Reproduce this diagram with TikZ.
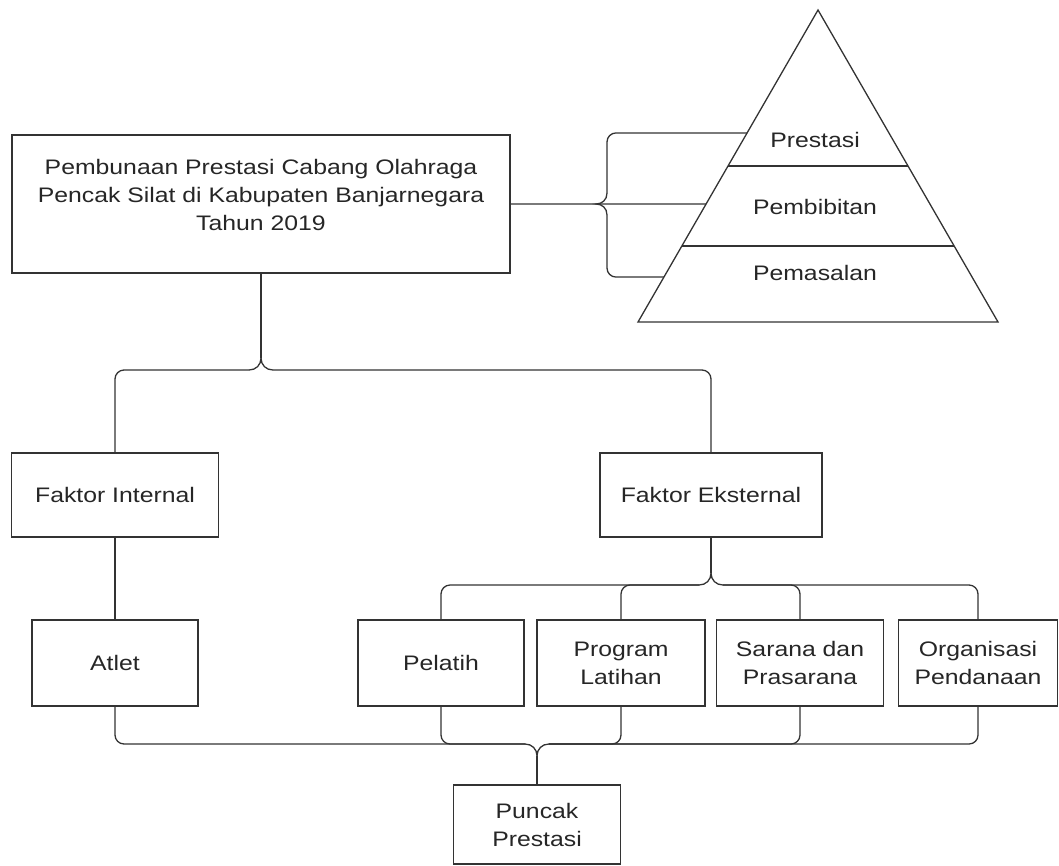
\documentclass[tikz,border=0pt]{standalone}
\usepackage{fontspec}
\setmainfont[FakeStretch=1.18]{Liberation Sans}
\usetikzlibrary{positioning, calc}

\begin{document}
\begin{tikzpicture}[x=1pt, y=-1pt, line width=1.3pt,
    blok/.style={draw=black!80, align=center, inner sep=0pt, text=black!85,
                 font=\fontsize{21}{28}\selectfont},
    lvl/.style={text=black!85, inner sep=0pt, font=\fontsize{21}{27}\selectfont},
    link/.style={draw=black!80},
    bracepath/.style={link, rounded corners=9pt}]
    \useasboundingbox (0,0) rectangle (1059,865);

    % main box and factors
    \node[blok, minimum width=498pt, minimum height=138pt] (main) at (261,204)
        {Pembunaan Prestasi Cabang Olahraga\\Pencak Silat di Kabupaten Banjarnegara\\Tahun 2019\rule[-18pt]{0pt}{1pt}};
    \node[blok, minimum width=207pt, minimum height=84pt] (fi) at (115,495) {Faktor Internal};
    \node[blok, minimum width=222pt, minimum height=84pt] (fe) at (711,495) {Faktor Eksternal};

    % bottom row
    \foreach \nm/\x/\w/\lbl in {atl/115/166/{Atlet},
                                pel/441/166/{Pelatih},
                                prg/621/168/{Program\\Latihan},
                                sar/800/167/{Sarana dan\\Prasarana},
                                org/978/159/{Organisasi\\Pendanaan}} {
        \node[blok, minimum width=\w pt, minimum height=86pt] (\nm) at (\x,663) {\lbl};
    }
    \node[blok, minimum width=167pt, minimum height=79pt] (pun) at (537,824.5) {Puncak\\Prestasi};

    % pyramid
    \coordinate (apex) at (818,10);
    \coordinate (baseL) at (638,322);
    \coordinate (baseR) at (998,322);
    \draw[link] (apex) -- (baseL) -- (baseR) -- cycle;
    \draw[link] ($(apex)!0.5!(baseL)$) -- ($(apex)!0.5!(baseR)$);
    \draw[link] ($(apex)!0.756!(baseL)$) -- ($(apex)!0.756!(baseR)$);
    \node[lvl] (prs) at (815,140) {Prestasi};
    \node[lvl] (pmb) at (815,207) {Pembibitan};
    \node[lvl] (pms) at (815,273) {Pemasalan};

    % brace to pyramid
    \coordinate (pt1) at ($(apex)!0.394!(baseL)$);
    \coordinate (pt2) at ($(apex)!0.622!(baseL)$);
    \coordinate (pt3) at ($(apex)!0.856!(baseL)$);
    \draw[link] (main.east) -- (pt2);
    \draw[bracepath] (pt1) -| (607,193);
    \draw[link] (607,193) .. controls (607,200) and (602,204) .. (596,204)
        .. controls (602,204) and (607,208) .. (607,215);
    \draw[bracepath] (607,215) |- (pt3);

    % brace main -> factors
    \draw[link] (main.south) -- (261,358);
    \draw[link] (249,370) .. controls (256,370) and (261,365) .. (261,358)
        .. controls (261,365) and (266,370) .. (273,370);
    \draw[bracepath] (fi.north) |- (249,370);
    \draw[bracepath] (fe.north) |- (273,370);
    \draw[link] (fi.south) -- (atl.north);

    % brace external -> children
    \draw[link] (fe.south) -- (711,573);
    \draw[link] (699,585) .. controls (706,585) and (711,580) .. (711,573)
        .. controls (711,580) and (716,585) .. (723,585);
    \foreach \nm in {pel, prg}
        \draw[bracepath] (\nm.north) |- (699,585);
    \foreach \nm in {sar, org}
        \draw[bracepath] (\nm.north) |- (723,585);

    % brace children -> peak
    \draw[link] (pun.north) -- (537,756);
    \draw[link] (525,744) .. controls (532,744) and (537,749) .. (537,756)
        .. controls (537,749) and (542,744) .. (549,744);
    \foreach \nm in {atl, pel}
        \draw[bracepath] (\nm.south) |- (525,744);
    \foreach \nm in {prg, sar, org}
        \draw[bracepath] (\nm.south) |- (549,744);
\end{tikzpicture}
\end{document}
